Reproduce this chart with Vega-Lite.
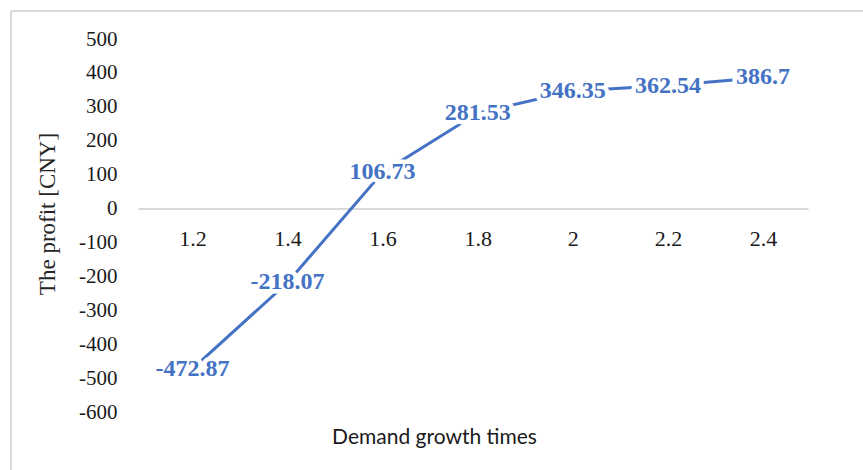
{
  "$schema": "https://vega.github.io/schema/vega-lite/v6.json",
  "width": 852,
  "height": 459,
  "autosize": "none",
  "padding": {"left": 11, "top": 11, "right": 0, "bottom": 0},
  "background": "white",
  "config": {
    "view": {"stroke": "#d9d9d9", "strokeWidth": 2, "strokeDash": [852, 1311, 459, 0]}
  },
  "data": {
    "values": [
      {"growth": 1.2, "profit": -472.87},
      {"growth": 1.4, "profit": -218.07},
      {"growth": 1.6, "profit": 106.73},
      {"growth": 1.8, "profit": 281.53},
      {"growth": 2.0, "profit": 346.35},
      {"growth": 2.2, "profit": 362.54},
      {"growth": 2.4, "profit": 386.7}
    ]
  },
  "encoding": {
    "x": {
      "field": "growth",
      "type": "quantitative",
      "scale": {"domain": [1.0856, 2.4946], "range": [127, 797], "nice": false, "zero": false},
      "axis": {
        "orient": "bottom",
        "offset": -261.5,
        "values": [1.2, 1.4, 1.6, 1.8, 2, 2.2, 2.4],
        "labelExpr": "'' + datum.value",
        "grid": false,
        "ticks": false,
        "domainColor": "#d9d9d9",
        "domainWidth": 2,
        "labelFont": "Liberation Serif",
        "labelFontSize": 22,
        "labelColor": "#1a1a1a",
        "labelPadding": 20,
        "labelFlush": false,
        "title": "Demand growth times",
        "titleFont": "Lato",
        "titleFontSize": 21,
        "titleFontWeight": "normal",
        "titleColor": "#1a1a1a",
        "titleX": 423,
        "titleY": 228.5,
        "titleAlign": "center",
        "titleBaseline": "middle"
      }
    },
    "y": {
      "field": "profit",
      "type": "quantitative",
      "scale": {"domain": [-600, 500], "range": [401, 28], "nice": false, "zero": false},
      "axis": {
        "orient": "left",
        "offset": -127,
        "values": [-600, -500, -400, -300, -200, -100, 0, 100, 200, 300, 400, 500],
        "labelExpr": "'' + datum.value",
        "grid": false,
        "ticks": false,
        "domain": false,
        "labelFont": "Liberation Serif",
        "labelFontSize": 21,
        "labelColor": "#1a1a1a",
        "labelPadding": 21,
        "labelFlush": false,
        "title": "The profit [CNY]",
        "titleFont": "Liberation Serif",
        "titleFontSize": 23,
        "titleFontWeight": "normal",
        "titleColor": "#262626",
        "titleAngle": -90,
        "titleX": -91,
        "titleY": 202.5,
        "titleAlign": "center",
        "titleBaseline": "middle"
      }
    }
  },
  "layer": [
    {
      "mark": {"type": "line", "color": "#4472C4", "strokeWidth": 3}
    },
    {
      "mark": {
        "type": "text",
        "font": "Liberation Serif",
        "fontSize": 24,
        "fontWeight": "bold",
        "fill": "white",
        "stroke": "white",
        "strokeWidth": 9,
        "strokeJoin": "round",
        "align": "center",
        "baseline": "middle"
      },
      "encoding": {"text": {"field": "profit", "type": "nominal"}}
    },
    {
      "mark": {
        "type": "text",
        "font": "Liberation Serif",
        "fontSize": 24,
        "fontWeight": "bold",
        "color": "#4472C4",
        "align": "center",
        "baseline": "middle"
      },
      "encoding": {"text": {"field": "profit", "type": "nominal"}}
    }
  ]
}
